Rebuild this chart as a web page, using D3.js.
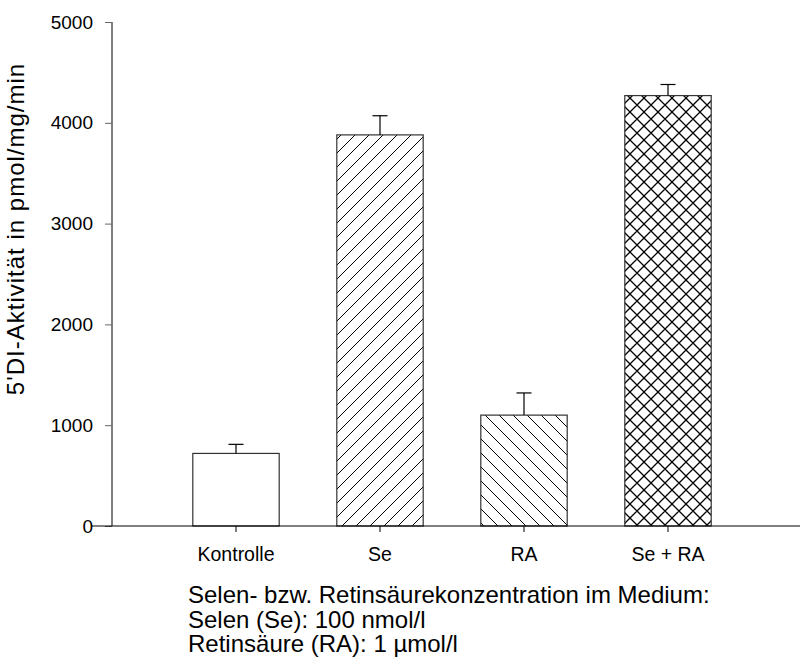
<!DOCTYPE html>
<html>
<head>
<meta charset="utf-8">
<script src="https://cdn.jsdelivr.net/npm/d3@7"></script>
<style>
  html, body { margin: 0; padding: 0; background: #fff; }
  svg { display: block; font-family: Arial, "Liberation Sans", sans-serif; }
</style>
</head>
<body>
<script>
// Deiodinase activity per treatment group
const categories = ["Kontrolle", "Se", "RA", "Se + RA"];
const means = [720, 3880, 1100, 4270];
const errors = [90, 190, 220, 110];
const fills = ["none", "hatchUp", "hatchDown", "crossHatch"];
const yTicks = [0, 1000, 2000, 3000, 4000, 5000];
const yTitle = "5'DI-Aktivität in pmol/mg/min";
const noteLines = [
  "Selen- bzw. Retinsäurekonzentration im Medium:",
  "Selen (Se): 100 nmol/l",
  "Retinsäure (RA): 1 µmol/l"
];

const W = 802, H = 666;
const FONT = "Arial, 'Liberation Sans', sans-serif";
const svg = d3.select("body").append("svg").attr("width", W).attr("height", H);

const yAxisX = 112, baseY = 526, topY = 22;
const y = d3.scaleLinear().domain([0, 5000]).range([baseY, topY]);
const x = d3.scaleBand().domain(categories).range([164, 740])
  .paddingInner(0.4).paddingOuter(0.2);

// Hatch patterns
const defs = svg.append("defs");
const s = 14;
function pattern(id, d, sw) {
  defs.append("pattern").attr("id", id).attr("patternUnits", "userSpaceOnUse")
    .attr("width", s).attr("height", s)
    .append("path").attr("d", d).attr("stroke", "#000").attr("stroke-width", sw)
    .attr("fill", "none");
}
const up = `M0,${s} L${s},0 M${-s/2},${s/2} L${s/2},${-s/2} M${s/2},${s*1.5} L${s*1.5},${s/2}`;
const down = `M0,0 L${s},${s} M${-s/2},${s/2} L${s/2},${s*1.5} M${s/2},${-s/2} L${s*1.5},${s/2}`;
pattern("hatchUp", up, 1);
pattern("hatchDown", down, 1);
pattern("crossHatch", up + " " + down, 1.3);

// Y axis
const yAxis = d3.axisLeft(y).tickValues(yTicks).tickSize(7).tickPadding(12).tickFormat(d3.format("d"));
const gy = svg.append("g").attr("transform", `translate(${yAxisX},0)`).call(yAxis);
gy.select(".domain").attr("d", `M0,${topY}V${baseY}`).attr("stroke", "#000");
gy.selectAll(".tick line").attr("stroke", "#666");
gy.selectAll(".tick text").attr("font-size", 19).attr("fill", "#000").attr("font-family", FONT);

// Bars
const bars = svg.append("g");
categories.forEach((c, i) => {
  bars.append("rect")
    .attr("x", x(c)).attr("y", y(means[i]))
    .attr("width", x.bandwidth()).attr("height", baseY - y(means[i]))
    .attr("fill", fills[i] === "none" ? "#fff" : `url(#${fills[i]})`)
    .attr("stroke", "#333").attr("stroke-width", 1.2);
  const cx = x(c) + x.bandwidth() / 2;
  bars.append("line").attr("x1", cx).attr("x2", cx)
    .attr("y1", y(means[i])).attr("y2", y(means[i] + errors[i]))
    .attr("stroke", "#000").attr("stroke-width", 1.2);
  bars.append("line").attr("x1", cx - 7.5).attr("x2", cx + 7.5)
    .attr("y1", y(means[i] + errors[i])).attr("y2", y(means[i] + errors[i]))
    .attr("stroke", "#000").attr("stroke-width", 1.2);
});

// Baseline and category ticks
svg.append("line").attr("x1", 92).attr("x2", 800).attr("y1", baseY).attr("y2", baseY)
  .attr("stroke", "#000").attr("stroke-width", 1.2);
const xAxis = d3.axisBottom(x).tickSize(6).tickPadding(15);
const gx = svg.append("g").attr("transform", `translate(0,${baseY})`).call(xAxis);
gx.select(".domain").remove();
gx.selectAll(".tick line").attr("stroke", "#000");
gx.selectAll(".tick text").attr("font-size", 19.5).attr("fill", "#000").attr("font-family", FONT);

// Y axis title
svg.append("text")
  .attr("transform", `translate(24,229) rotate(-90)`)
  .attr("text-anchor", "middle").attr("font-size", 24).attr("letter-spacing", 1)
  .attr("fill", "#000")
  .text(yTitle);

// Note below the chart
svg.append("g").selectAll("text").data(noteLines).join("text")
  .attr("x", 188).attr("y", (d, i) => 603 + i * 24.5)
  .attr("font-size", 24).attr("fill", "#000").text(d => d);
</script>
</body>
</html>
